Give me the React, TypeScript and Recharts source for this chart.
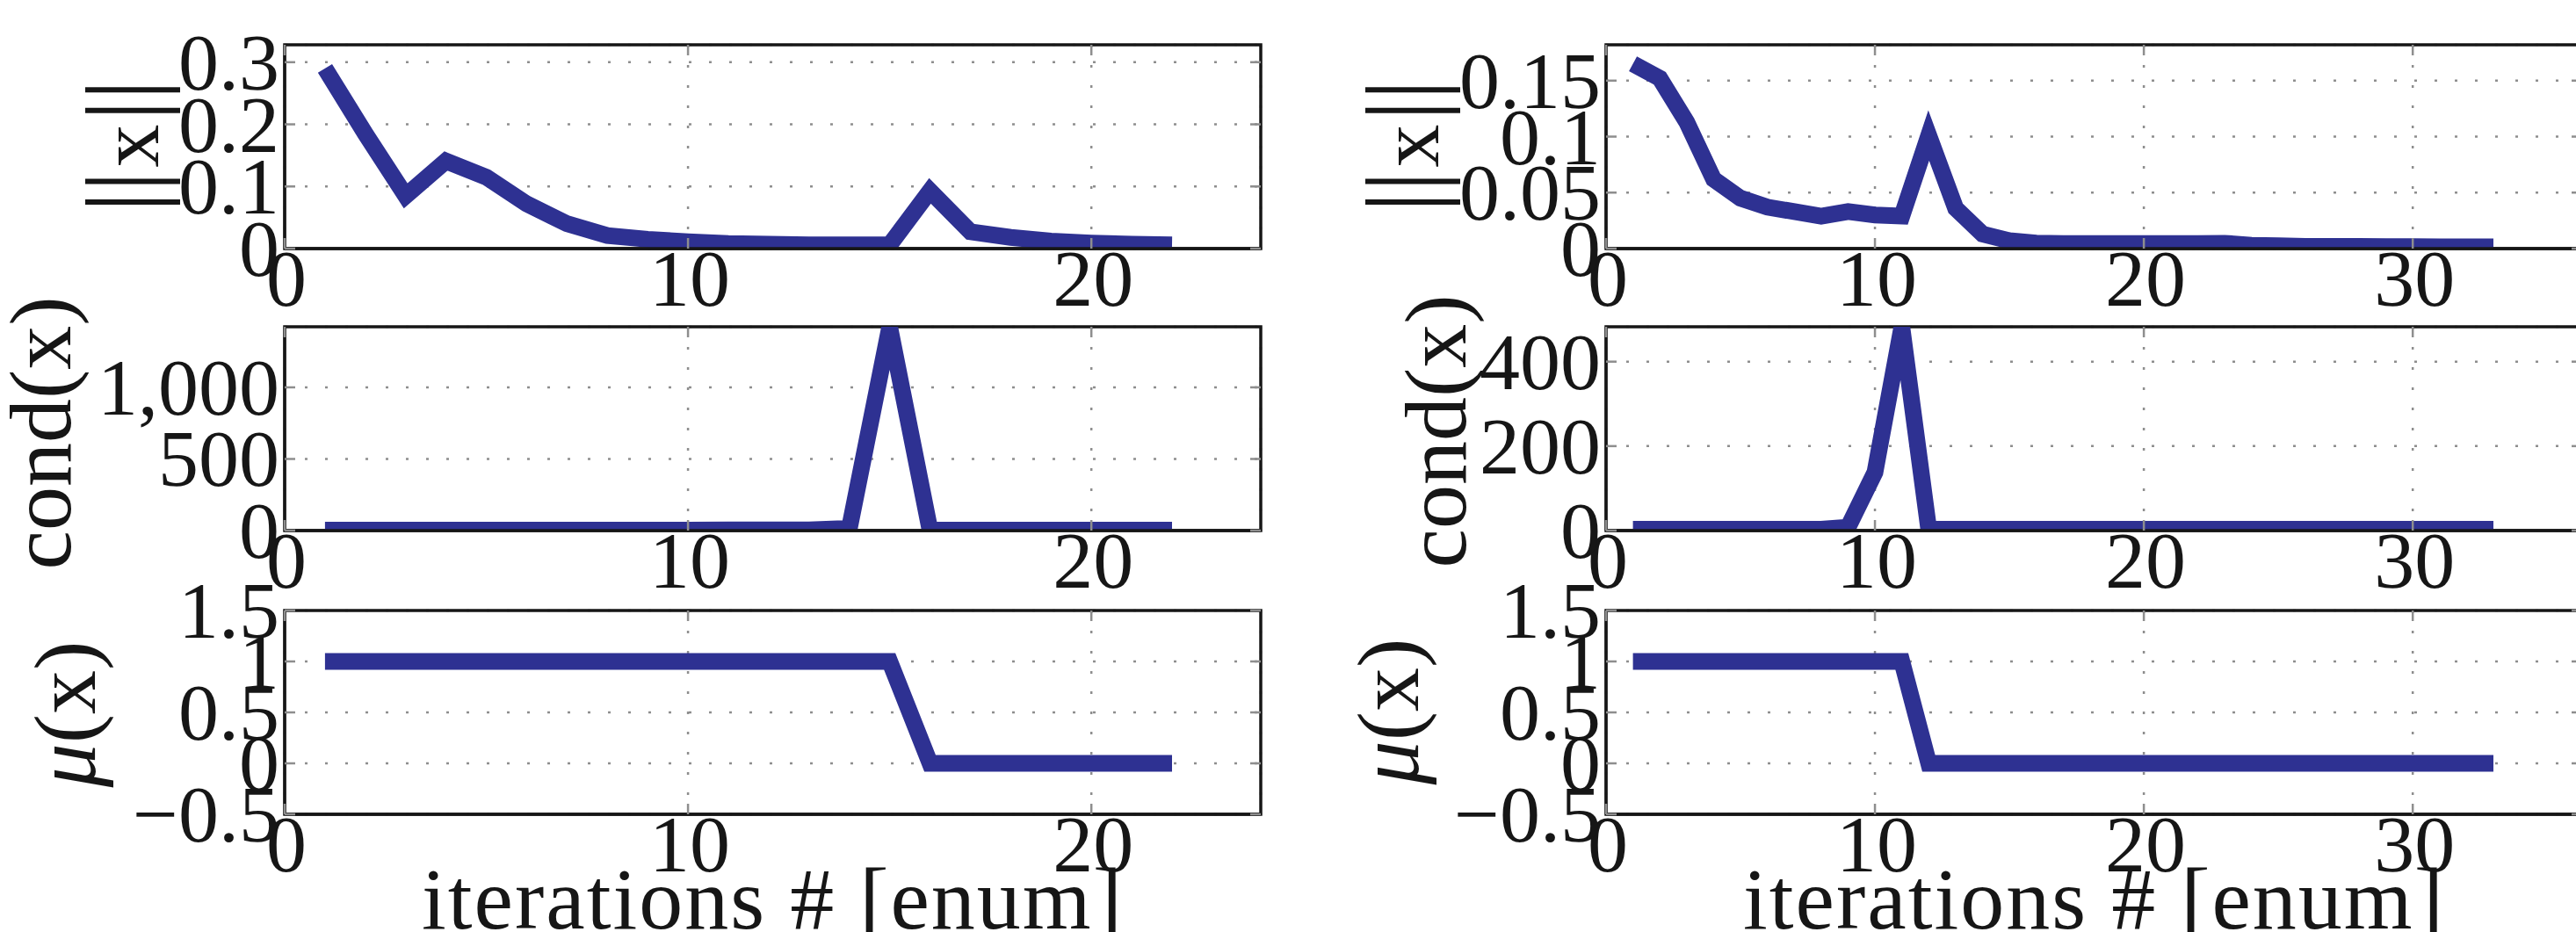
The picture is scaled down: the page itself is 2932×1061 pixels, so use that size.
import React from "react";
import { LineChart, Line, XAxis, YAxis, CartesianGrid, ReferenceArea } from "recharts";

// iteration numbers
const iterLeft = [1, 2, 3, 4, 5, 6, 7, 8, 9, 10, 11, 12, 13, 14, 15, 16, 17, 18, 19, 20, 21, 22];
const iterRight = [
  1, 2, 3, 4, 5, 6, 7, 8, 9, 10, 11, 12, 13, 14, 15, 16, 17, 18, 19, 20, 21, 22, 23, 24, 25, 26, 27,
  28, 29, 30, 31, 32, 33,
];

// ||x|| per iteration
const normLeft = [
  0.29, 0.185, 0.085, 0.141, 0.115, 0.072, 0.04, 0.021, 0.015, 0.011, 0.008, 0.007, 0.006, 0.006,
  0.006, 0.093, 0.027, 0.018, 0.012, 0.009, 0.007, 0.006,
];
const normRight = [
  0.165, 0.152, 0.113, 0.062, 0.045, 0.037, 0.033, 0.029, 0.033, 0.03, 0.029, 0.101, 0.036, 0.013,
  0.007, 0.005, 0.0045, 0.0045, 0.0045, 0.0045, 0.0045, 0.0045, 0.0048, 0.003, 0.0025, 0.002, 0.002,
  0.002, 0.0018, 0.0018, 0.0016, 0.0015, 0.0015,
];

// cond(x) per iteration
const condLeft = [3, 3, 3, 3, 3, 3, 3, 3, 3, 3, 4, 4, 5, 15, 1420, 3, 3, 3, 3, 3, 3, 3];
const condRight = [
  3, 3, 3, 3, 3, 3, 3, 3, 8, 138, 482, 3, 3, 3, 3, 3, 3, 3, 3, 3, 3, 3, 3, 3, 3, 3, 3, 3, 3, 3, 3, 3, 3,
];

// mu(x) per iteration
const muLeft = [1, 1, 1, 1, 1, 1, 1, 1, 1, 1, 1, 1, 1, 1, 1, 0, 0, 0, 0, 0, 0, 0];
const muRight = [
  1, 1, 1, 1, 1, 1, 1, 1, 1, 1, 1, 0, 0, 0, 0, 0, 0, 0, 0, 0, 0, 0, 0, 0, 0, 0, 0, 0, 0, 0, 0, 0, 0,
];

// tick labels
const xTicksLeft = [0, 10, 20];
const xTicksRight = [0, 10, 20, 30];
const normTicksLeft = [0, 0.1, 0.2, 0.3];
const normTicksRight = [0, 0.05, 0.1, 0.15];
const condTicksLeft = [0, 500, 1000];
const condTicksRight = [0, 200, 400];
const muTicks = [-0.5, 0, 0.5, 1, 1.5];

const FONT = "'Liberation Serif', 'Times New Roman', serif";
const LINE_COLOR = "#2e3192";
const GRID = "#8e8e8e";
const FRAME = "#161616";

const AXIS_W = 324;
const PLOT_W = 1111;
const PLOT_H = 232;
const TOP_M = 60;
const RIGHT_M = 40;
const XAXIS_H = 80;
const TICK_LEN = 12;

const fmtPlain = (v: number) => String(v);
const fmtThousands = (v: number) => v.toLocaleString("en-US");
const fmtMinus = (v: number) => String(v).replace("-", "\u2212");

const toRows = (its: number[], vals: number[]) => its.map((it, i) => ({ it, v: vals[i] }));

type PanelProps = {
  frameLeft: number;
  frameTop: number;
  data: { it: number; v: number }[];
  xMax: number;
  xTicks: number[];
  yDomain: [number, number];
  yTicks: number[];
  fmt: (v: number) => string;
  ylabel: React.ReactNode;
  labelX: number;
  labelY: number;
  labelSize: number;
  xlabel?: boolean;
};

function Panel({
  frameLeft,
  frameTop,
  data,
  xMax,
  xTicks,
  yDomain,
  yTicks,
  fmt,
  ylabel,
  labelX,
  labelY,
  labelSize,
  xlabel = false,
}: PanelProps) {
  const ox = frameLeft - AXIS_W;
  const oy = frameTop - TOP_M;
  const extraBottom = xlabel ? 90 : 0;

  const yTick = (p: any) => {
    const { x, y, payload } = p;
    return (
      <g>
        <line x1={x} x2={x + TICK_LEN} y1={y} y2={y} stroke={GRID} strokeWidth={2.5} />
        <line x1={x + PLOT_W - TICK_LEN} x2={x + PLOT_W} y1={y} y2={y} stroke={GRID} strokeWidth={2.5} />
        <text x={x - 6} y={y} dy={31} textAnchor="end" fontFamily={FONT} fontSize={92} fill={FRAME}>
          {fmt(payload.value)}
        </text>
      </g>
    );
  };

  const xTick = (p: any) => {
    const { x, y, payload } = p;
    return (
      <g>
        <line x1={x} x2={x} y1={y} y2={y - TICK_LEN} stroke={GRID} strokeWidth={2.5} />
        <line x1={x} x2={x} y1={y - PLOT_H} y2={y - PLOT_H + TICK_LEN} stroke={GRID} strokeWidth={2.5} />
        <text x={x + 2} y={y} dy={65} textAnchor="middle" fontFamily={FONT} fontSize={92} fill={FRAME}>
          {payload.value}
        </text>
      </g>
    );
  };

  const yLabel = () => (
    <text
      transform={`translate(${labelX - ox},${labelY - oy}) rotate(-90)`}
      textAnchor="middle"
      fontFamily={FONT}
      fontSize={labelSize}
      fill={FRAME}
    >
      {ylabel}
    </text>
  );

  const xLabel = () => (
    <text
      x={AXIS_W + PLOT_W / 2}
      y={TOP_M + PLOT_H + 130}
      textAnchor="middle"
      fontFamily={FONT}
      fontSize={100}
      letterSpacing={2}
      fill={FRAME}
    >
      iterations # [enum]
    </text>
  );

  return (
    <div style={{ position: "absolute", left: ox, top: oy }}>
      <LineChart
        width={AXIS_W + PLOT_W + RIGHT_M}
        height={TOP_M + PLOT_H + XAXIS_H + extraBottom}
        data={data}
        margin={{ top: TOP_M, right: RIGHT_M, left: 0, bottom: extraBottom }}
      >
        <CartesianGrid stroke={GRID} strokeWidth={2.5} strokeDasharray="3 20" />
        <XAxis
          dataKey="it"
          type="number"
          domain={[0, xMax]}
          ticks={xTicks}
          interval={0}
          height={XAXIS_H}
          tickSize={0}
          tickMargin={0}
          tickLine={false}
          tick={xTick}
          axisLine={{ stroke: FRAME, strokeWidth: 3.5 }}
          label={xlabel ? xLabel : undefined}
        />
        <YAxis
          type="number"
          domain={yDomain}
          ticks={yTicks}
          interval={0}
          allowDataOverflow
          width={AXIS_W}
          tickSize={0}
          tickMargin={0}
          tickLine={false}
          tick={yTick}
          axisLine={{ stroke: FRAME, strokeWidth: 3 }}
          label={yLabel}
        />
        <Line
          type="linear"
          dataKey="v"
          stroke={LINE_COLOR}
          strokeWidth={19}
          dot={false}
          activeDot={false}
          isAnimationActive={false}
        />
        <ReferenceArea
          x1={0}
          x2={xMax}
          y1={yDomain[0]}
          y2={yDomain[1]}
          fill="none"
          fillOpacity={0}
          stroke={FRAME}
          strokeWidth={3.5}
          ifOverflow="visible"
        />
      </LineChart>
    </div>
  );
}

const normLabel = (
  <>
    <tspan fontSize={118}>||</tspan>
    <tspan dx={4}>x</tspan>
    <tspan dx={4} fontSize={118}>||</tspan>
  </>
);
const condLabel = "cond(x)";
const muLabel = (
  <>
    <tspan fontStyle="italic">μ</tspan>(x)
  </>
);

export default function App() {
  return (
    <div
      style={{
        position: "absolute",
        left: 0,
        top: 0,
        width: 2932,
        height: 1061,
        overflow: "hidden",
        background: "#ffffff",
      }}
    >
      {/* left column */}
      <Panel
        frameLeft={324}
        frameTop={51}
        data={toRows(iterLeft, normLeft)}
        xMax={24.2}
        xTicks={xTicksLeft}
        yDomain={[0, 0.328]}
        yTicks={normTicksLeft}
        fmt={fmtPlain}
        ylabel={normLabel}
        labelX={180}
        labelY={166}
        labelSize={98}
      />
      <Panel
        frameLeft={324}
        frameTop={372}
        data={toRows(iterLeft, condLeft)}
        xMax={24.2}
        xTicks={xTicksLeft}
        yDomain={[0, 1423]}
        yTicks={condTicksLeft}
        fmt={fmtThousands}
        ylabel={condLabel}
        labelX={80}
        labelY={493}
        labelSize={100}
      />
      <Panel
        frameLeft={324}
        frameTop={695}
        data={toRows(iterLeft, muLeft)}
        xMax={24.2}
        xTicks={xTicksLeft}
        yDomain={[-0.5, 1.5]}
        yTicks={muTicks}
        fmt={fmtMinus}
        ylabel={muLabel}
        labelX={108}
        labelY={813}
        labelSize={100}
        xlabel
      />
      {/* right column */}
      <Panel
        frameLeft={1828}
        frameTop={51}
        data={toRows(iterRight, normRight)}
        xMax={36.3}
        xTicks={xTicksRight}
        yDomain={[0, 0.182]}
        yTicks={normTicksRight}
        fmt={fmtPlain}
        ylabel={normLabel}
        labelX={1637}
        labelY={166}
        labelSize={98}
      />
      <Panel
        frameLeft={1828}
        frameTop={372}
        data={toRows(iterRight, condRight)}
        xMax={36.3}
        xTicks={xTicksRight}
        yDomain={[0, 482.6]}
        yTicks={condTicksRight}
        fmt={fmtThousands}
        ylabel={condLabel}
        labelX={1668}
        labelY={491}
        labelSize={100}
      />
      <Panel
        frameLeft={1828}
        frameTop={695}
        data={toRows(iterRight, muRight)}
        xMax={36.3}
        xTicks={xTicksRight}
        yDomain={[-0.5, 1.5]}
        yTicks={muTicks}
        fmt={fmtMinus}
        ylabel={muLabel}
        labelX={1614}
        labelY={810}
        labelSize={100}
        xlabel
      />
    </div>
  );
}
